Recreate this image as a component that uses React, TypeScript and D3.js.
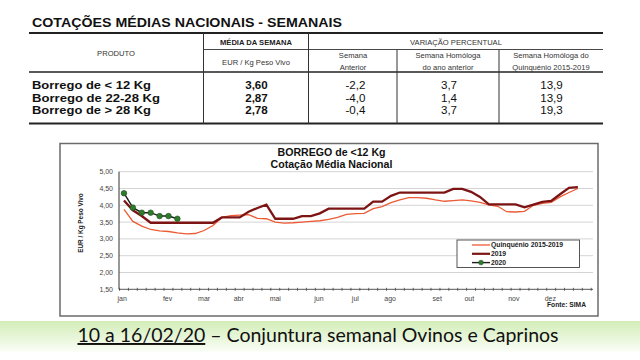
import React from "react";
import * as d3 from "d3";

const products = ["Borrego de < 12 Kg", "Borrego de 22-28 Kg", "Borrego de > 28 Kg"];
const weekMeans = ["3,60", "2,87", "2,78"];
const prevWeek = ["-2,2", "-4,0", "-0,4"];
const prevYear = ["3,7", "1,4", "3,7"];
const fiveYear = ["13,9", "13,9", "19,3"];

const quinq = [3.88, 3.52, 3.38, 3.28, 3.24, 3.22, 3.18, 3.15, 3.16, 3.25, 3.40, 3.64, 3.69, 3.71, 3.72, 3.61, 3.60, 3.50, 3.47, 3.48, 3.50, 3.52, 3.54, 3.58, 3.64, 3.73, 3.75, 3.76, 3.90, 3.96, 4.08, 4.16, 4.23, 4.23, 4.21, 4.16, 4.12, 4.14, 4.16, 4.13, 4.09, 4.01, 3.97, 3.81, 3.80, 3.82, 4.00, 4.06, 4.09, 4.25, 4.38, 4.50];
const y2019 = [4.14, 3.85, 3.68, 3.48, 3.48, 3.48, 3.48, 3.48, 3.48, 3.48, 3.48, 3.64, 3.64, 3.64, 3.81, 3.92, 4.02, 3.60, 3.60, 3.60, 3.68, 3.68, 3.76, 3.90, 3.90, 3.90, 3.90, 3.90, 4.11, 4.11, 4.28, 4.38, 4.38, 4.38, 4.38, 4.38, 4.38, 4.49, 4.49, 4.40, 4.25, 4.03, 4.03, 4.03, 4.03, 3.94, 4.02, 4.10, 4.13, 4.33, 4.52, 4.54];
const y2020 = [4.36, 3.93, 3.78, 3.78, 3.68, 3.68, 3.60];

const yTicks = [1.5, 2.0, 2.5, 3.0, 3.5, 4.0, 4.5, 5.0];
const monthLabels = ["jan", "fev", "mar", "abr", "mai", "jun", "jul", "ago", "set", "out", "nov", "dez"];
const monthWeeks = [0.8, 5.9, 10.0, 13.9, 18.0, 22.9, 27.0, 30.9, 36.2, 39.8, 44.8, 48.9];
const legendLabels = ["Quinquénio 2015-2019", "2019", "2020"];

const C_Q = "#ec5a34";
const C_19 = "#7d1414";
const C_20 = "#1e1e1e";
const C_DOT = "#2e7b2c";

export default function App() {
  const x = d3.scaleLinear().domain([0.44, 53.7]).range([119, 593]);
  const y = d3.scaleLinear().domain([1.5, 5]).range([289.3, 171.7]);
  const line = d3
    .line<number>()
    .x((_, i) => x(i + 1))
    .y((d) => y(d));
  const weekTicks = d3.range(0.5, 54, 1);
  const fmt = (v: number) => v.toFixed(2).replace(".", ",");

  const tFont = "'Liberation Sans', Arial, sans-serif";
  const rowYs = [89, 101.7, 114.4];
  const rowW = [119, 128, 119];

  return (
    <svg
      width={640}
      height={360}
      style={{ position: "absolute", left: 0, top: 0, background: "#fff" }}
      fontFamily={tFont}
    >
      <defs>
        <linearGradient id="band" x1="0" y1="0" x2="0" y2="1">
          <stop offset="0" stopColor="#d3eeb8" />
          <stop offset="0.55" stopColor="#e8f6da" />
          <stop offset="1" stopColor="#fbfef8" />
        </linearGradient>
      </defs>

      {/* Table */}
      <text x={32} y={27} fontSize={12.8} fontWeight="bold" fill="#111" textLength={310} lengthAdjust="spacingAndGlyphs">
        COTAÇÕES MÉDIAS NACIONAIS - SEMANAIS
      </text>
      <line x1={29} x2={603} y1={33} y2={33} stroke="#222" strokeWidth={1.8} />
      <line x1={203} x2={603} y1={49.5} y2={49.5} stroke="#333" strokeWidth={0.9} />
      <line x1={29} x2={603} y1={72} y2={72} stroke="#222" strokeWidth={1.6} />
      <line x1={29} x2={603} y1={123.5} y2={123.5} stroke="#222" strokeWidth={1.8} />
      <line x1={203.5} x2={203.5} y1={33} y2={123.5} stroke="#333" strokeWidth={1} />
      <line x1={308.5} x2={308.5} y1={33} y2={123.5} stroke="#333" strokeWidth={1} />
      <line x1={397} x2={397} y1={49.5} y2={123.5} stroke="#333" strokeWidth={1} />
      <line x1={499} x2={499} y1={49.5} y2={123.5} stroke="#333" strokeWidth={1} />

      <g fontSize={7.6} fill="#333" textAnchor="middle">
        <text x={116} y={55.5}>PRODUTO</text>
        <text x={256} y={44.5} fontWeight="bold" fill="#222">MÉDIA DA SEMANA</text>
        <text x={256} y={64.5}>EUR / Kg Peso Vivo</text>
        <text x={456} y={44.5}>VARIAÇÃO PERCENTUAL</text>
        <text x={353} y={58}>Semana</text>
        <text x={353} y={69.5}>Anterior</text>
        <text x={448} y={58}>Semana Homóloga</text>
        <text x={448} y={69.5}>do ano anterior</text>
        <text x={551} y={58}>Semana Homóloga do</text>
        <text x={551} y={69.5}>Quinquénio 2015-2019</text>
      </g>
      {products.map((p, i) => (
        <g key={p} fontSize={11} fill="#111">
          <text x={32} y={rowYs[i]} fontWeight="bold" textLength={rowW[i]} lengthAdjust="spacingAndGlyphs">{p}</text>
          <text x={256.5} y={rowYs[i]} fontWeight="bold" textAnchor="middle" fontSize={11.6}>{weekMeans[i]}</text>
          <text x={355.5} y={rowYs[i]} textAnchor="middle" fontSize={11.6}>{prevWeek[i]}</text>
          <text x={449} y={rowYs[i]} textAnchor="middle" fontSize={11.6}>{prevYear[i]}</text>
          <text x={551.5} y={rowYs[i]} textAnchor="middle" fontSize={11.6}>{fiveYear[i]}</text>
        </g>
      ))}

      {/* Chart frame */}
      <rect x={60} y={143.5} width={538} height={172.5} fill="#fff" stroke="#6b6b6b" strokeWidth={1.5} />
      <text x={331.5} y={156} textAnchor="middle" fontSize={10.6} fontWeight="bold" fill="#111">BORREGO de &lt;12 Kg</text>
      <text x={331.5} y={168} textAnchor="middle" fontSize={10.6} fontWeight="bold" fill="#111">Cotação Média Nacional</text>

      {/* grid */}
      {yTicks.map((t) => (
        <g key={t}>
          {t > 1.5 && <line x1={119} x2={593} y1={y(t)} y2={y(t)} stroke="#d4d4d4" strokeWidth={1} />}
          <text x={113} y={y(t) + 2.4} textAnchor="end" fontSize={7} fill="#444">{fmt(t)}</text>
        </g>
      ))}
      <line x1={119} x2={119} y1={y(5)} y2={y(1.5)} stroke="#333" strokeWidth={1} />
      <line x1={119} x2={593} y1={y(1.5)} y2={y(1.5)} stroke="#444" strokeWidth={0.9} />
      {weekTicks.map((w) => (
        <line key={w} x1={x(w)} x2={x(w)} y1={y(1.5) - 1.5} y2={y(1.5) + 1.5} stroke="#444" strokeWidth={0.8} />
      ))}
      {monthLabels.map((m, i) => (
        <text key={m} x={x(monthWeeks[i])} y={300.5} textAnchor="middle" fontSize={7} fill="#444">{m}</text>
      ))}
      <text transform="translate(83,223) rotate(-90)" textAnchor="middle" fontSize={6.4} fontWeight="bold" fill="#222">EUR / Kg Peso Vivo</text>

      {/* lines */}
      <path d={line(quinq) || ""} fill="none" stroke={C_Q} strokeWidth={1.3} />
      <path d={line(y2019) || ""} fill="none" stroke={C_19} strokeWidth={2.3} />
      <path d={line(y2020) || ""} fill="none" stroke={C_20} strokeWidth={1.4} />
      {y2020.map((v, i) => (
        <circle key={i} cx={x(i + 1)} cy={y(v)} r={2.8} fill={C_DOT} stroke="#1f4f1d" strokeWidth={0.6} />
      ))}

      {/* legend */}
      <rect x={457} y={240} width={122.5} height={27.5} fill="#fff" stroke="#444" strokeWidth={0.9} />
      {legendLabels.map((l, i) => {
        const ly = 245 + i * 8.8;
        const col = i === 0 ? C_Q : i === 1 ? C_19 : C_20;
        return (
          <g key={l}>
            <line x1={472} x2={490} y1={ly} y2={ly} stroke={col} strokeWidth={i === 0 ? 1.3 : i === 1 ? 2.2 : 1.4} />
            {i === 2 && <circle cx={481} cy={ly} r={2.4} fill={C_DOT} stroke="#1f4f1d" strokeWidth={0.5} />}
            <text x={491} y={ly + 2.4} fontSize={6.8} fontWeight="bold" fill="#222">{l}</text>
          </g>
        );
      })}
      <text x={586} y={307} textAnchor="end" fontSize={6.7} fontWeight="bold" fill="#222">Fonte: SIMA</text>

      {/* footer band */}
      <rect x={0} y={321} width={640} height={31} fill="url(#band)" />
      <text x={318} y={342} textAnchor="middle" fontSize={19.5} fill="#111" fontFamily="Lato, 'Open Sans', sans-serif">
        <tspan style={{ textDecoration: "underline" }}>10 a 16/02/20</tspan>
        <tspan> – Conjuntura semanal Ovinos e Caprinos</tspan>
      </text>
    </svg>
  );
}
